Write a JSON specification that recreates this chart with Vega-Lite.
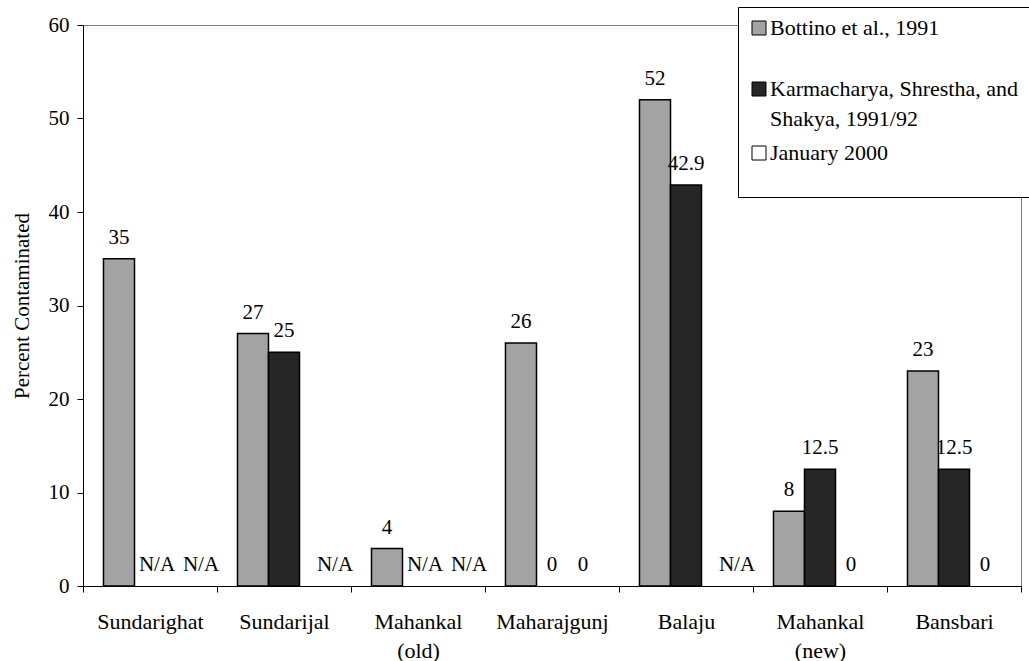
{
  "$schema": "https://vega.github.io/schema/vega-lite/v6.json",
  "autosize": {"type": "none"},
  "padding": {"left": 83, "top": 25, "right": 8, "bottom": 75},
  "width": 938,
  "height": 561,
  "background": "white",
  "config": {
    "view": {"stroke": "#808080", "strokeWidth": 1},
    "font": "Liberation Serif",
    "axis": {"domainColor": "black", "tickColor": "black", "labelColor": "black", "titleColor": "black", "grid": false, "labelFont": "Liberation Serif", "titleFont": "Liberation Serif", "titleFontWeight": "normal"}
  },
  "data": {
    "values": [
      {"site": "Sundarighat", "series": "Bottino et al., 1991", "value": 35, "label": "35"},
      {"site": "Sundarighat", "series": "Karmacharya, Shrestha, and Shakya, 1991/92", "value": 0, "label": "N/A"},
      {"site": "Sundarighat", "series": "January 2000", "value": 0, "label": "N/A"},
      {"site": "Sundarijal", "series": "Bottino et al., 1991", "value": 27, "label": "27"},
      {"site": "Sundarijal", "series": "Karmacharya, Shrestha, and Shakya, 1991/92", "value": 25, "label": "25"},
      {"site": "Sundarijal", "series": "January 2000", "value": 0, "label": "N/A"},
      {"site": "Mahankal (old)", "series": "Bottino et al., 1991", "value": 4, "label": "4"},
      {"site": "Mahankal (old)", "series": "Karmacharya, Shrestha, and Shakya, 1991/92", "value": 0, "label": "N/A"},
      {"site": "Mahankal (old)", "series": "January 2000", "value": 0, "label": "N/A"},
      {"site": "Maharajgunj", "series": "Bottino et al., 1991", "value": 26, "label": "26"},
      {"site": "Maharajgunj", "series": "Karmacharya, Shrestha, and Shakya, 1991/92", "value": 0, "label": "0"},
      {"site": "Maharajgunj", "series": "January 2000", "value": 0, "label": "0"},
      {"site": "Balaju", "series": "Bottino et al., 1991", "value": 52, "label": "52"},
      {"site": "Balaju", "series": "Karmacharya, Shrestha, and Shakya, 1991/92", "value": 42.9, "label": "42.9"},
      {"site": "Balaju", "series": "January 2000", "value": 0, "label": "N/A"},
      {"site": "Mahankal (new)", "series": "Bottino et al., 1991", "value": 8, "label": "8"},
      {"site": "Mahankal (new)", "series": "Karmacharya, Shrestha, and Shakya, 1991/92", "value": 12.5, "label": "12.5"},
      {"site": "Mahankal (new)", "series": "January 2000", "value": 0, "label": "0"},
      {"site": "Bansbari", "series": "Bottino et al., 1991", "value": 23, "label": "23"},
      {"site": "Bansbari", "series": "Karmacharya, Shrestha, and Shakya, 1991/92", "value": 12.5, "label": "12.5"},
      {"site": "Bansbari", "series": "January 2000", "value": 0, "label": "0"}
    ]
  },
  "encoding": {
    "x": {
      "field": "site", "type": "nominal",
      "sort": ["Sundarighat", "Sundarijal", "Mahankal (old)", "Maharajgunj", "Balaju", "Mahankal (new)", "Bansbari"],
      "scale": {"paddingInner": 0, "paddingOuter": 0},
      "axis": {
        "title": null, "labelAngle": 0, "tickBand": "extent", "tickSize": 6, "labelPadding": 19,
        "labelFontSize": 22, "labelLineHeight": 29, "labelBaseline": "top",
        "labelExpr": "indexof(datum.label, ' (') > 0 ? [substring(datum.label, 0, indexof(datum.label, ' (')), substring(datum.label, indexof(datum.label, ' (') + 1)] : datum.label"
      }
    },
    "xOffset": {
      "field": "series", "type": "nominal",
      "sort": ["Bottino et al., 1991", "Karmacharya, Shrestha, and Shakya, 1991/92", "January 2000"],
      "scale": {"paddingInner": 0, "paddingOuter": 0.66}
    },
    "y": {
      "field": "value", "type": "quantitative",
      "scale": {"domain": [0, 60], "nice": false},
      "axis": {
        "values": [0, 10, 20, 30, 40, 50, 60], "tickSize": 6, "labelPadding": 8,
        "labelFontSize": 21, "title": "Percent Contaminated", "titleFontSize": 21, "titlePadding": 16
      }
    }
  },
  "layer": [
    {
      "transform": [{"filter": "datum.value > 0"}],
      "mark": {"type": "bar", "stroke": "black", "strokeWidth": 1.5},
      "encoding": {
        "color": {
          "field": "series", "type": "nominal",
          "sort": ["Bottino et al., 1991", "Karmacharya, Shrestha, and Shakya, 1991/92", "January 2000"],
          "scale": {"domain": ["Bottino et al., 1991", "Karmacharya, Shrestha, and Shakya, 1991/92", "January 2000"], "range": ["#a3a3a3", "#262626", "#ffffff"]},
          "legend": {
            "title": null, "orient": "none", "legendX": 655, "legendY": -18,
            "symbolType": "square", "symbolSize": 196, "symbolStrokeColor": "black", "symbolStrokeWidth": 1,
            "symbolOpacity": 1,
            "labelFont": "Liberation Serif", "labelFontSize": 22, "labelColor": "black", "labelLimit": 400,
            "labelOffset": 0, "rowPadding": 12, "labelBaseline": "top",
            "strokeColor": "black", "fillColor": "white", "padding": 10,
            "values": ["Bottino et al., 1991", "Karmacharya, Shrestha, and Shakya, 1991/92", "January 2000"],
            "labelExpr": "datum.label == 'Karmacharya, Shrestha, and Shakya, 1991/92' ? ['Karmacharya, Shrestha, and', 'Shakya, 1991/92'] : [datum.label, '']",
            "encode": {
              "labels": {
                "update": {
                  "dy": {"value": -10},
                  "lineHeight": {"signal": "datum.value == 'January 2000' ? 23 : (datum.value == 'Bottino et al., 1991' ? 27 : 30)"}
                }
              }
            }
          }
        }
      }
    },
    {
      "transform": [{"filter": "datum.label != 'N/A'"}],
      "mark": {"type": "text", "baseline": "alphabetic", "dy": -15, "fontSize": 21, "font": "Liberation Serif", "color": "black"},
      "encoding": {"text": {"field": "label"}}
    },
    {
      "transform": [{"filter": "datum.label == 'N/A' && datum.series == 'Karmacharya, Shrestha, and Shakya, 1991/92'"}],
      "mark": {"type": "text", "baseline": "alphabetic", "dy": -15, "dx": 7, "fontSize": 21, "font": "Liberation Serif", "color": "black"},
      "encoding": {"text": {"field": "label"}}
    },
    {
      "transform": [{"filter": "datum.label == 'N/A' && datum.series == 'January 2000'"}],
      "mark": {"type": "text", "baseline": "alphabetic", "dy": -15, "dx": 20, "fontSize": 21, "font": "Liberation Serif", "color": "black"},
      "encoding": {"text": {"field": "label"}}
    }
  ]
}
